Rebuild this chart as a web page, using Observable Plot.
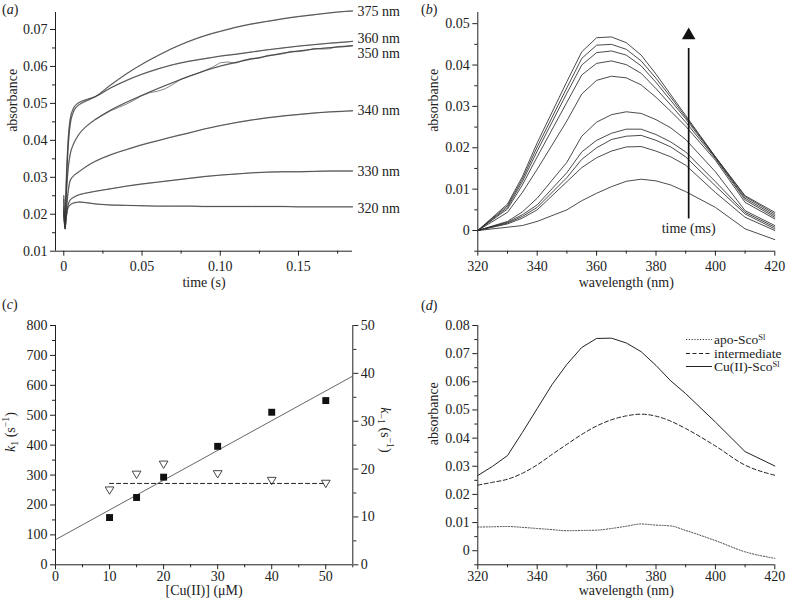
<!DOCTYPE html>
<html><head><meta charset="utf-8">
<script src="https://cdn.jsdelivr.net/npm/d3@7"></script>
<script src="https://cdn.jsdelivr.net/npm/@observablehq/plot@0.6"></script>
<style>
body{margin:0;background:#fff;}
#wrap{position:relative;width:796px;height:605px;font-family:"Liberation Serif",serif;color:#222;overflow:hidden;}
.panel{position:absolute;}
.plab{position:absolute;font-size:14px;line-height:16px;}
#legend{position:absolute;left:686px;top:333px;font-size:13.5px;line-height:13px;}
#legend .row{height:13.5px;display:flex;align-items:center;white-space:nowrap;}
#legend sup{font-size:8.5px;vertical-align:4px;line-height:0;}
</style></head><body><div id="wrap"></div><script>
// ---------- Panel (a): kinetic traces ----------
const wavesA = [320, 330, 340, 350, 360, 375];
const timeA = [0, 0.0008, 0.0015, 0.0025, 0.004, 0.006, 0.008, 0.01, 0.015, 0.02, 0.03, 0.04, 0.05, 0.06, 0.07, 0.08, 0.09, 0.10, 0.11, 0.12, 0.13, 0.14, 0.15, 0.16, 0.17, 0.18, 0.1845];
const fit375 = [0.024, 0.017, 0.026, 0.036, 0.044, 0.0475, 0.049, 0.0497, 0.0508, 0.0518, 0.0550, 0.0580, 0.0606, 0.0629, 0.0650, 0.0668, 0.0683, 0.0695, 0.0706, 0.0715, 0.0722, 0.0729, 0.0735, 0.0740, 0.0745, 0.0749, 0.0750];
const fit360 = [0.022, 0.017, 0.028, 0.038, 0.0455, 0.0485, 0.0497, 0.0503, 0.0511, 0.0518, 0.0542, 0.0562, 0.0579, 0.0593, 0.0605, 0.0614, 0.0621, 0.0628, 0.0633, 0.0639, 0.0645, 0.0650, 0.0655, 0.0659, 0.0663, 0.0666, 0.0668];
const fit350 = [0.021, 0.0165, 0.024, 0.031, 0.036, 0.0388, 0.0405, 0.0418, 0.0440, 0.0456, 0.0482, 0.0503, 0.0522, 0.0540, 0.0557, 0.0573, 0.0588, 0.0601, 0.0611, 0.0620, 0.0628, 0.0636, 0.0642, 0.0647, 0.0651, 0.0654, 0.0656];
const fit340 = [0.020, 0.016, 0.020, 0.025, 0.029, 0.0303, 0.0310, 0.0316, 0.0331, 0.0343, 0.0361, 0.0375, 0.0388, 0.0399, 0.0410, 0.0420, 0.0431, 0.0440, 0.0448, 0.0455, 0.0461, 0.0466, 0.0470, 0.0474, 0.0477, 0.0479, 0.0480];
const fit330 = [0.021, 0.0165, 0.019, 0.022, 0.0238, 0.0245, 0.0250, 0.0253, 0.0258, 0.0262, 0.0269, 0.0276, 0.0282, 0.0287, 0.0292, 0.0297, 0.0302, 0.0306, 0.0309, 0.0312, 0.0314, 0.0315, 0.0315, 0.0316, 0.0317, 0.0317, 0.0317];
const fit320 = [0.025, 0.016, 0.019, 0.0215, 0.0225, 0.0230, 0.0232, 0.0233, 0.0231, 0.0228, 0.0225, 0.0224, 0.0223, 0.0222, 0.0222, 0.0222, 0.0221, 0.0221, 0.0221, 0.0221, 0.0221, 0.0221, 0.0220, 0.0220, 0.0220, 0.0220, 0.0220];
const time350data = [0.02, 0.025, 0.03, 0.035, 0.04, 0.045, 0.05, 0.055, 0.06, 0.065, 0.07, 0.075, 0.08, 0.085, 0.09, 0.095, 0.10, 0.105, 0.11, 0.115, 0.12, 0.125, 0.13, 0.135, 0.14, 0.145, 0.15, 0.155, 0.16, 0.165, 0.17, 0.175, 0.18, 0.1845];
const data350 = [0.0456, 0.0468, 0.0480, 0.0489, 0.0498, 0.0509, 0.0521, 0.0529, 0.0533, 0.0540, 0.0552, 0.0566, 0.0574, 0.0581, 0.0589, 0.0598, 0.0610, 0.0612, 0.0609, 0.0617, 0.0622, 0.0622, 0.0630, 0.0631, 0.0634, 0.0641, 0.0640, 0.0643, 0.0649, 0.0647, 0.0648, 0.0654, 0.0655, 0.0657];
const labelsA = ["320 nm", "330 nm", "340 nm", "350 nm", "360 nm", "375 nm"];
const labelYA = [0.0215, 0.0317, 0.0481, 0.0634, 0.0675, 0.0749];
const yTicksA = [0.01, 0.02, 0.03, 0.04, 0.05, 0.06, 0.07];
const yMinorA = [0.015, 0.025, 0.035, 0.045, 0.055, 0.065];
const xTicksA = [0, 0.05, 0.10, 0.15];
const xMinorA = [0.025, 0.075, 0.125, 0.175];

// ---------- Panel (b): spectra over time ----------
const wavesB = [320, 330, 335, 340, 350, 355, 360, 365, 370, 375, 380, 385, 390, 400, 410, 420];
const specB1 = [0, 0.0064, 0.0130, 0.0212, 0.0360, 0.0432, 0.0466, 0.0468, 0.0454, 0.0424, 0.0378, 0.0328, 0.0278, 0.0178, 0.0084, 0.0044];
const specB2 = [0, 0.0060, 0.0124, 0.0202, 0.0345, 0.0416, 0.0448, 0.0450, 0.0438, 0.0410, 0.0368, 0.0322, 0.0274, 0.0178, 0.0082, 0.0040];
const specB3 = [0, 0.0056, 0.0118, 0.0192, 0.0332, 0.0400, 0.0430, 0.0434, 0.0424, 0.0398, 0.0358, 0.0314, 0.0270, 0.0176, 0.0078, 0.0036];
const specB4 = [0, 0.0052, 0.0110, 0.0178, 0.0310, 0.0376, 0.0404, 0.0410, 0.0401, 0.0380, 0.0343, 0.0303, 0.0262, 0.0174, 0.0074, 0.0032];
const specB5 = [0, 0.0044, 0.0092, 0.0148, 0.0265, 0.0330, 0.0363, 0.0373, 0.0369, 0.0352, 0.0322, 0.0288, 0.0252, 0.0170, 0.0068, 0.0028];
const specB6 = [0, 0.0022, 0.0045, 0.0078, 0.0165, 0.0228, 0.0262, 0.0280, 0.0287, 0.0283, 0.0268, 0.0248, 0.0220, 0.0142, 0.0048, 0.0012];
const specB7 = [0, 0.0020, 0.0038, 0.0062, 0.0140, 0.0190, 0.0218, 0.0235, 0.0245, 0.0245, 0.0232, 0.0214, 0.0190, 0.0118, 0.0044, 0.0008];
const specB8 = [0, 0.0018, 0.0034, 0.0056, 0.0128, 0.0172, 0.0200, 0.0220, 0.0228, 0.0230, 0.0218, 0.0202, 0.0178, 0.0108, 0.0040, 0.0004];
const specB9 = [0, 0.0016, 0.0030, 0.0050, 0.0118, 0.0152, 0.0176, 0.0192, 0.0202, 0.0203, 0.0192, 0.0178, 0.0158, 0.0092, 0.0032, 0.0000];
const specB10 = [0, 0.0008, 0.0012, 0.0022, 0.0050, 0.0072, 0.0090, 0.0106, 0.0119, 0.0124, 0.0120, 0.0110, 0.0094, 0.0056, 0.0004, -0.0022];
const arrowB = {x: 391, y1: 0.0028, y2: 0.044, head: 0.0472, label: "time (ms)", labelY: 0.0005};
const yTicksB = [0, 0.01, 0.02, 0.03, 0.04, 0.05];
const yMinorB = [-0.005, 0.005, 0.015, 0.025, 0.035, 0.045];
const xTicksW = [320, 340, 360, 380, 400, 420];
const xMinorW = [330, 350, 370, 390, 410];

// ---------- Panel (c): rate constants ----------
const cuConc = [10, 15, 20, 30, 40, 50];
const k1 = [158, 225, 293, 396, 510, 549];
const kMinus1 = [15.5, 18.8, 20.9, 18.9, 17.5, 16.9];
const k1FitX = [0, 55];
const k1FitY = [84, 631];
const kMinus1LineX = [10, 50];
const kMinus1Mean = 17.0;
const yTicksC = [0, 100, 200, 300, 400, 500, 600, 700, 800];
const yMinorC = [50, 150, 250, 350, 450, 550, 650, 750];
const yTicksCR = [0, 10, 20, 30, 40, 50];
const yMinorCR = [5, 15, 25, 35, 45];
const xTicksC = [0, 10, 20, 30, 40, 50];
const xMinorC = [5, 15, 25, 35, 45, 55];

// ---------- Panel (d): species spectra ----------
const wavesD = [320, 325, 330, 335, 340, 345, 350, 355, 360, 365, 370, 375, 380, 385, 390, 400, 410, 420];
const cuSco = [0.0267, 0.0300, 0.0338, 0.0420, 0.0505, 0.0590, 0.0662, 0.0722, 0.0754, 0.0755, 0.0738, 0.0707, 0.0658, 0.0603, 0.0558, 0.0457, 0.0352, 0.0301];
const intermediate = [0.0233, 0.0243, 0.0254, 0.0275, 0.0305, 0.0342, 0.0378, 0.0413, 0.0443, 0.0465, 0.0479, 0.0485, 0.0478, 0.0460, 0.0434, 0.0372, 0.0304, 0.0268];
const apoSco = [0.0084, 0.0085, 0.0086, 0.0083, 0.0079, 0.0075, 0.0071, 0.0072, 0.0073, 0.0079, 0.0087, 0.0095, 0.0091, 0.0088, 0.0072, 0.0036, -0.0004, -0.0027];
const yTicksD = [0, 0.01, 0.02, 0.03, 0.04, 0.05, 0.06, 0.07, 0.08];
const yMinorD = [-0.005, 0.005, 0.015, 0.025, 0.035, 0.045, 0.055, 0.065, 0.075];

// ---------- helpers ----------
const FONT = '"Liberation Serif", "Times New Roman", serif';
const INK = "#222";
const style = {fontFamily: FONT, fontSize: "14px", color: INK, background: "none", overflow: "visible"};
const fmt = d => d === 0 ? "0" : d.toFixed(2);
const blank = () => "";

function axisMarks({xMaj, xMin, yMaj, yMin, xFmt, yFmt, xPad, yPad = 3}) {
  return [
    Plot.axisY({ticks: yMaj, tickSize: 5, tickPadding: yPad, tickFormat: yFmt, label: null}),
    Plot.axisY({ticks: yMin, tickSize: 3, tickFormat: blank, label: null}),
    Plot.axisX({ticks: xMaj, tickSize: 5, tickPadding: xPad, tickFormat: xFmt, label: null}),
    Plot.axisX({ticks: xMin, tickSize: 3, tickFormat: blank, label: null})
  ];
}

function richText(svg, x, y, rot, parts, size = 14) {
  const t = d3.select(svg).append("text")
    .attr("transform", `translate(${x},${y}) rotate(${rot})`)
    .attr("text-anchor", "middle").attr("dominant-baseline", "middle")
    .attr("font-family", FONT).attr("font-size", size).attr("fill", INK);
  let shift = 0;
  for (const p of parts) {
    const ts = t.append("tspan").text(p.t);
    if (p.i) ts.attr("font-style", "italic");
    const target = p.sub ? 4 : p.sup ? -5 : 0;
    if (p.sub || p.sup) ts.attr("font-size", size * 0.7);
    if (target - shift !== 0) ts.attr("dy", target - shift);
    shift = target;
  }
}

const wrap = document.getElementById("wrap");
function place(el, left, top) {
  const d = document.createElement("div");
  d.className = "panel"; d.style.left = left + "px"; d.style.top = top + "px";
  d.appendChild(el); wrap.appendChild(d);
}
function panelLabel(letter, left, top) {
  const d = document.createElement("div");
  d.className = "plab"; d.style.left = left + "px"; d.style.top = top + "px";
  d.innerHTML = `(<i>${letter}</i>)`; wrap.appendChild(d);
}

// ---------- build (a) ----------
const fitsA = [fit320, fit330, fit340, fit350, fit360, fit375];
const rowsA = wavesA.flatMap((w, i) => timeA.map((t, j) => ({w, t, A: fitsA[i][j]})));
const rows350 = time350data.map((t, j) => ({t, A: data350[j]}));
const tEnd = timeA[timeA.length - 1];
const labA = labelsA.map((s, i) => ({s, t: tEnd, A: labelYA[i]}));
const xDomA = [-0.0053, tEnd];
const plotA = Plot.plot({
  width: 400, height: 300, marginLeft: 55, marginRight: 48, marginTop: 12, marginBottom: 49.3,
  style,
  x: {domain: xDomA, label: null},
  y: {domain: [0.01, 0.0746], label: null},
  marks: [
    Plot.ruleX([xDomA[0]], {stroke: INK}),
    Plot.ruleY([0.01], {stroke: INK}),
    ...axisMarks({xMaj: xTicksA, xMin: xMinorA, yMaj: yTicksA, yMin: yMinorA, xFmt: fmt, yFmt: fmt, xPad: 5}),
    Plot.line(rowsA, {x: "t", y: "A", z: "w", stroke: "#b0b0b0", strokeWidth: 1.4, curve: "monotone-x"}),
    Plot.line(rows350, {x: "t", y: "A", stroke: "#666", strokeWidth: 0.8}),
    Plot.line(rowsA, {x: "t", y: "A", z: "w", stroke: "#333", strokeWidth: 0.75, curve: "monotone-x"}),
    Plot.text(labA, {x: "t", y: "A", text: "s", dx: 5, textAnchor: "start", fontSize: 14, fill: INK}),
    Plot.text(["time (s)"], {text: d => d, frameAnchor: "bottom", dy: 35.5, fontSize: 14, fill: INK}),
    Plot.text(["absorbance"], {text: d => d, frameAnchor: "left", dx: -43, rotate: -90, fontSize: 14, fill: INK})
  ]
});
place(plotA, 0, 0);

// ---------- build (b) ----------
const specsB = [specB1, specB2, specB3, specB4, specB5, specB6, specB7, specB8, specB9, specB10];
const rowsB = specsB.flatMap((c, i) => wavesB.map((w, j) => ({k: i, w, A: c[j]})));
const plotB = Plot.plot({
  width: 396, height: 300, marginLeft: 77.3, marginRight: 21.7, marginTop: 12, marginBottom: 49.3,
  style,
  x: {domain: [320, 420], label: null},
  y: {domain: [-0.005, 0.0527], label: null},
  marks: [
    Plot.ruleX([320], {stroke: INK}),
    Plot.ruleY([-0.005], {stroke: INK}),
    ...axisMarks({xMaj: xTicksW, xMin: xMinorW, yMaj: yTicksB, yMin: yMinorB, xFmt: d => String(d), yFmt: fmt, xPad: 5}),
    Plot.line(rowsB, {x: "w", y: "A", z: "k", stroke: "#2a2a2a", strokeWidth: 0.85}),
    Plot.ruleX([arrowB], {x: "x", y1: "y1", y2: "y2", stroke: "#111", strokeWidth: 1.7}),
    Plot.dot([arrowB], {x: "x", y: "head", symbol: "triangle", fill: "#111", stroke: "none", r: 5}),
    Plot.text([arrowB], {x: "x", y: "labelY", text: "label", fontSize: 14, fill: INK}),
    Plot.text(["wavelength (nm)"], {text: d => d, frameAnchor: "bottom", dy: 35.5, fontSize: 14, fill: INK}),
    Plot.text(["absorbance"], {text: d => d, frameAnchor: "left", dx: -44.3, rotate: -90, fontSize: 14, fill: INK})
  ]
});
place(plotB, 400, 0);

// ---------- build (c) ----------
const triDown = {draw(ctx, size) {
  const r = Math.sqrt(size / Math.PI), w = 0.95 * r, h = 0.8 * r;
  ctx.moveTo(-w, -h); ctx.lineTo(w, -h); ctx.lineTo(0, h); ctx.closePath();
}};
const rowsC = cuConc.map((c, i) => ({c, k1: k1[i], km1: kMinus1[i]}));
const fitC = k1FitX.map((x, i) => ({x, y: k1FitY[i]}));
const meanC = kMinus1LineX.map(x => ({x, v: kMinus1Mean}));
const R = 16; // right axis (k-1) scale factor relative to left axis (k1)
const plotC = Plot.plot({
  width: 400, height: 305, marginLeft: 55, marginRight: 47.7, marginTop: 25, marginBottom: 40.7,
  style,
  x: {domain: [0, 55], label: null},
  y: {domain: [0, 800], label: null},
  marks: [
    Plot.ruleX([0], {stroke: INK}),
    Plot.ruleX([55], {stroke: INK}),
    Plot.ruleY([0], {stroke: INK}),
    ...axisMarks({xMaj: xTicksC, xMin: xMinorC, yMaj: yTicksC, yMin: yMinorC, xFmt: d => String(d), yFmt: d => String(d), xPad: 1}),
    Plot.axisY({anchor: "right", ticks: yTicksCR.map(v => v * R), tickSize: 5, tickPadding: 3, tickFormat: d => String(d / R), label: null}),
    Plot.axisY({anchor: "right", ticks: yMinorCR.map(v => v * R), tickSize: 3, tickFormat: blank, label: null}),
    Plot.line(fitC, {x: "x", y: "y", stroke: "#555", strokeWidth: 0.9}),
    Plot.line(meanC, {x: "x", y: d => d.v * R, stroke: "#222", strokeWidth: 1, strokeDasharray: "4,3"}),
    Plot.dot(rowsC, {x: "c", y: d => d.km1 * R, symbol: triDown, r: 4.6, stroke: "#333", strokeWidth: 0.9, fill: "none"}),
    Plot.dot(rowsC, {x: "c", y: "k1", symbol: "square", r: 3.9, fill: "#111", stroke: "none"}),
    Plot.text(["[Cu(II)] (\u03bcM)"], {text: d => d, frameAnchor: "bottom", dy: 30, fontSize: 14, fill: INK})
  ]
});
richText(plotC, 12, 132, -90, [{t: "k", i: true}, {t: "1", sub: true}, {t: " (s"}, {t: "\u22121", sup: true}, {t: ")"}]);
richText(plotC, 384, 130, 90, [{t: "k", i: true}, {t: "\u22121", sub: true}, {t: " (s"}, {t: "\u22121", sup: true}, {t: ")"}]);
place(plotC, 0, 300);

// ---------- build (d) ----------
const speciesD = [{name: "apo", vals: apoSco}, {name: "int", vals: intermediate}, {name: "cu", vals: cuSco}];
const rowD = s => wavesD.map((w, j) => ({w, A: s.vals[j]}));
const plotD = Plot.plot({
  width: 396, height: 305, marginLeft: 77.3, marginRight: 21.7, marginTop: 25, marginBottom: 40.7,
  style,
  x: {domain: [320, 420], label: null},
  y: {domain: [-0.005, 0.08], label: null},
  marks: [
    Plot.ruleX([320], {stroke: INK}),
    Plot.ruleY([-0.005], {stroke: INK}),
    ...axisMarks({xMaj: xTicksW, xMin: xMinorW, yMaj: yTicksD, yMin: yMinorD, xFmt: d => String(d), yFmt: fmt, xPad: 1}),
    Plot.line(rowD(speciesD[0]), {x: "w", y: "A", stroke: "#333", strokeWidth: 0.9, strokeDasharray: "1.2,1.6", curve: "monotone-x"}),
    Plot.line(rowD(speciesD[1]), {x: "w", y: "A", stroke: "#222", strokeWidth: 1, strokeDasharray: "4,2.5", curve: "monotone-x"}),
    Plot.line(rowD(speciesD[2]), {x: "w", y: "A", stroke: "#222", strokeWidth: 1}),
    Plot.text(["wavelength (nm)"], {text: d => d, frameAnchor: "bottom", dy: 30, fontSize: 14, fill: INK}),
    Plot.text(["absorbance"], {text: d => d, frameAnchor: "left", dx: -44.3, rotate: -90, fontSize: 14, fill: INK})
  ]
});
place(plotD, 400, 300);

// legend for (d)
const legend = document.createElement("div");
legend.id = "legend";
const legendItems = [
  {dash: "1.2,1.6", w: 0.9, html: "apo-Sco<sup>Sl</sup>"},
  {dash: "4,2.5", w: 1, html: "intermediate"},
  {dash: null, w: 1, html: "Cu(II)-Sco<sup>Sl</sup>"}
];
legend.innerHTML = legendItems.map(it =>
  `<div class="row"><svg width="26" height="13"><line x1="0" x2="26" y1="6.5" y2="6.5" stroke="#222" stroke-width="${it.w}" ${it.dash ? `stroke-dasharray="${it.dash}"` : ""}/></svg><span style="margin-left:2px">${it.html}</span></div>`
).join("");
wrap.appendChild(legend);

panelLabel("a", 2, 2);
panelLabel("b", 421, 2);
panelLabel("c", 2, 297);
panelLabel("d", 421, 298);
</script></body></html>
